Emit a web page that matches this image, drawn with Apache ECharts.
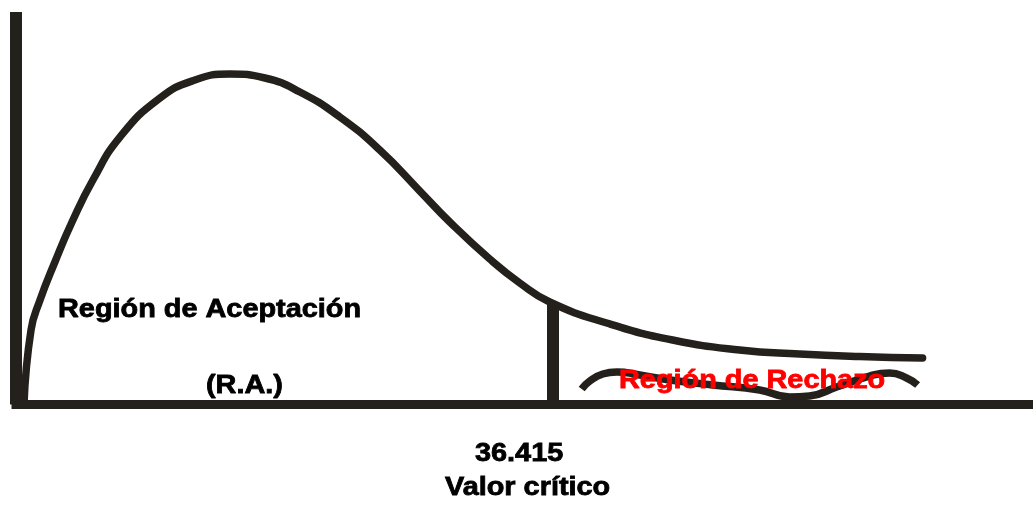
<!DOCTYPE html>
<html>
<head>
<meta charset="utf-8">
<script src="https://cdn.jsdelivr.net/npm/echarts@6/dist/echarts.min.js"></script>
<style>
html,body{margin:0;padding:0;background:#fff;}
#c{width:1033px;height:506px;}
</style>
</head>
<body>
<div id="c"></div>
<script>
// Distribution curve (x: statistic value, y: relative density)
const curveX = [0.54, 1.02, 1.63, 2.64, 3.80, 5.22, 7.05, 9.77, 12.14, 14.51, 16.89, 19.26, 21.97, 24.68, 27.40, 29.43, 32.14, 34.18, 36.21, 40.08, 44.55, 49.10, 53.17, 57.24, 61.51];
const curveY = [0, 18.98, 26.62, 36.31, 46.50, 57.20, 68.15, 78.09, 82.68, 84.20, 83.18, 79.62, 73.25, 64.84, 54.39, 46.50, 37.07, 30.96, 26.11, 20.76, 16.43, 13.89, 12.87, 12.23, 11.85];
// Wavy brace marking the rejection region
const braceX = [38.38, 38.93, 39.81, 40.76, 42.32, 44.35, 47.27, 50.45, 52.49, 53.84, 55.68, 57.91, 59.27, 60.42, 61.17];
const braceY = [3.95, 5.99, 7.77, 8.28, 7.52, 6.24, 4.97, 3.69, 1.91, 2.17, 4.46, 7.26, 8.03, 6.75, 4.97];
const criticalValue = 36.415;
const criticalTop = 26;
const labels = {
  accept: 'Región de Aceptación',
  acceptShort: '(R.A.)',
  critical: '36.415',
  criticalName: 'Valor crítico',
  reject: 'Región de Rechazo'
};

const ink = '#24211c';
const zip = (xs, ys) => xs.map((x, i) => [x, ys[i]]);

const chart = echarts.init(document.getElementById('c'));
function txt(text, x, y, color) {
  const c = color || '#000';
  return {
    type: 'text', x: x, y: y, scaleX: 1.11, z: 100,
    style: {
      text: text, x: 0, y: 0,
      fontSize: 26, fontWeight: 'bold', fontFamily: '"Liberation Sans", Arial, sans-serif',
      fill: c, stroke: c, lineWidth: 0.8,
      textAlign: 'left', textVerticalAlign: 'middle'
    }
  };
}
chart.setOption({
  animation: false,
  backgroundColor: '#fff',
  grid: { left: 16, right: 0, top: 12, bottom: 101.5 },
  xAxis: {
    type: 'value', min: 0, max: 69,
    axisLine: { show: true, onZero: true, lineStyle: { color: ink, width: 9, cap: 'square' } },
    axisTick: { show: false }, axisLabel: { show: false }, splitLine: { show: false }
  },
  yAxis: {
    type: 'value', min: 0, max: 100,
    axisLine: { show: true, lineStyle: { color: ink, width: 12, cap: 'butt' } },
    axisTick: { show: false }, axisLabel: { show: false }, splitLine: { show: false }
  },
  series: [
    {
      type: 'line', data: zip(curveX, curveY), smooth: 0.5, symbol: 'none',
      lineStyle: { color: ink, width: 7.5, cap: 'round' },
      markLine: {
        silent: true, symbol: 'none', label: { show: false },
        lineStyle: { color: ink, width: 12, type: 'solid', cap: 'butt' },
        data: [[{ coord: [criticalValue, 0] }, { coord: [criticalValue, criticalTop] }]]
      }
    },
    {
      type: 'line', data: zip(braceX, braceY), smooth: 0.5, symbol: 'none',
      lineStyle: { color: ink, width: 7.5, cap: 'butt' }
    }
  ],
  graphic: [
    txt(labels.accept, 58, 310),
    txt(labels.acceptShort, 206, 386),
    txt(labels.critical, 475, 454),
    txt(labels.criticalName, 445, 488),
    txt(labels.reject, 619, 381, '#ff0000')
  ]
});
</script>
</body>
</html>
